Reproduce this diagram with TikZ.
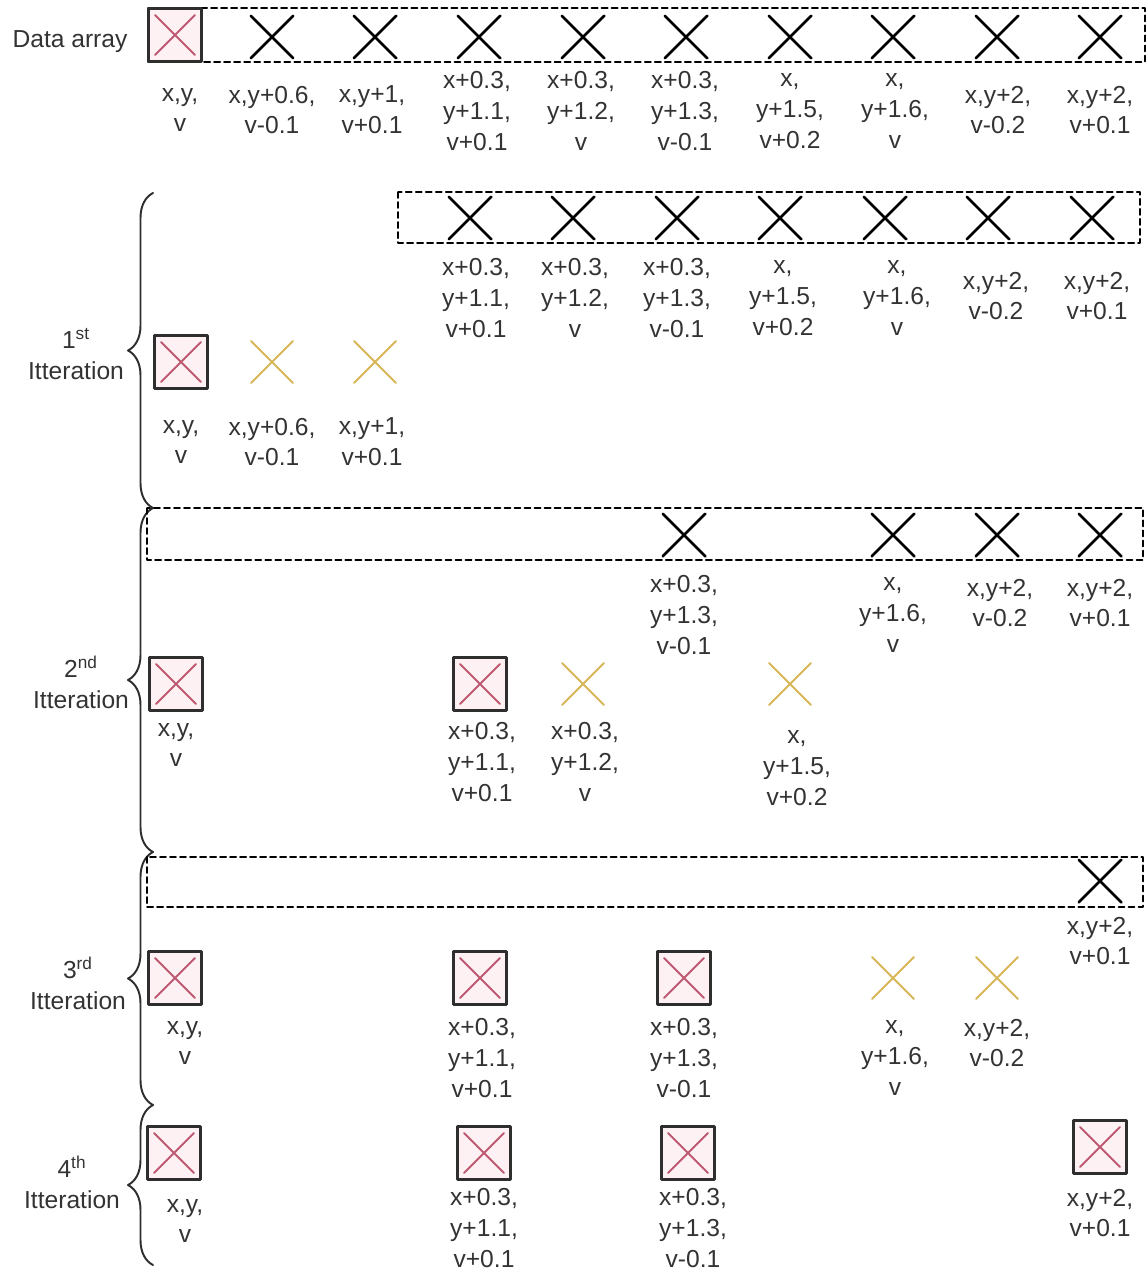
\documentclass[tikz,border=0pt]{standalone}
\usepackage{fontspec}
\setmainfont{Liberation Sans}
\usetikzlibrary{shapes.misc,decorations.pathreplacing}
\definecolor{textgray}{HTML}{333333}
\definecolor{boxgray}{HTML}{2E2E2E}
\definecolor{boxpink}{HTML}{FDF1F3}
\definecolor{crossred}{HTML}{BE5A72}
\definecolor{crossyellow}{HTML}{D6B656}
\tikzset{
  txt/.style={font=\fontsize{14}{17.5}\selectfont, text=textgray, align=center, inner sep=0pt},
  blackx/.style={cross out, draw=black, line width=1.5pt, minimum size=0.8cm, inner sep=0pt},
  yellowx/.style={cross out, draw=crossyellow, line width=1.1pt, minimum size=0.8cm, inner sep=0pt},
  keptbox/.style={draw=boxgray, fill=boxpink, line width=1.4pt, minimum size=1.06cm, inner sep=0pt,
    path picture={\draw[crossred, line width=1.1pt]
      ([shift={(0.13cm,-0.13cm)}]path picture bounding box.north west) -- ([shift={(-0.13cm,0.13cm)}]path picture bounding box.south east)
      ([shift={(-0.13cm,-0.13cm)}]path picture bounding box.north east) -- ([shift={(0.13cm,0.13cm)}]path picture bounding box.south west);}},
  dashbox/.style={draw=black, dash pattern=on 3.4pt off 2.3pt, line width=1.1pt},
  itbrace/.style={draw=boxgray, line width=1.1pt, decorate, decoration={brace, amplitude=0.5cm}},
}
\begin{document}
\begin{tikzpicture}[x=0.02cm, y=-0.02cm, line cap=round, line join=round]
  \useasboundingbox (0,0) rectangle (1147,1274);

  % data array
  \node[txt] (data) at (70,42) {Data array};
  \draw[dashbox] (148,8) rectangle (1145,62);
  \node[keptbox] (d1) at (175,35) {};
  \node[blackx] (d2) at (272,37) {};
  \node[blackx] (d3) at (375,37) {};
  \node[blackx] (d4) at (479,37) {};
  \node[blackx] (d5) at (583,37) {};
  \node[blackx] (d6) at (686,37) {};
  \node[blackx] (d7) at (790,37) {};
  \node[blackx] (d8) at (893,37) {};
  \node[blackx] (d9) at (997,37) {};
  \node[blackx] (d10) at (1100,37) {};
  \node[txt] (dl1) at (180,110) {x,y,\\v};
  \node[txt] (dl2) at (272,110) {x,y+0.6,\\v-0.1};
  \node[txt] (dl3) at (372,110) {x,y+1,\\v+0.1};
  \node[txt] (dl4) at (477,111) {x+0.3,\\y+1.1,\\v+0.1};
  \node[txt] (dl5) at (581,111) {x+0.3,\\y+1.2,\\v};
  \node[txt] (dl6) at (685,111) {x+0.3,\\y+1.3,\\v-0.1};
  \node[txt] (dl7) at (790,111) {x,\\y+1.5,\\v+0.2};
  \node[txt] (dl8) at (895,111) {x,\\y+1.6,\\v};
  \node[txt] (dl9) at (998,110) {x,y+2,\\v-0.2};
  \node[txt] (dl10) at (1100,110) {x,y+2,\\v+0.1};

  % 1st iteration
  \coordinate (t1) at (153,193);
  \coordinate (t2) at (153,508);
  \coordinate (t3) at (153,852);
  \coordinate (t4) at (153,1105);
  \coordinate (t5) at (153,1265);
  \draw[itbrace] (t2) -- (t1);
  \node[txt] (it1) at (76,354) {1\textsuperscript{st}\\Itteration};
  \draw[dashbox] (398,192) rectangle (1140,243);
  \node[blackx] (a4) at (470,218) {};
  \node[blackx] (a5) at (573,218) {};
  \node[blackx] (a6) at (677,218) {};
  \node[blackx] (a7) at (780,218) {};
  \node[blackx] (a8) at (885,218) {};
  \node[blackx] (a9) at (988,218) {};
  \node[blackx] (a10) at (1092,218) {};
  \node[txt] (al4) at (476,298) {x+0.3,\\y+1.1,\\v+0.1};
  \node[txt] (al5) at (575,298) {x+0.3,\\y+1.2,\\v};
  \node[txt] (al6) at (677,298) {x+0.3,\\y+1.3,\\v-0.1};
  \node[txt] (al7) at (783,298) {x,\\y+1.5,\\v+0.2};
  \node[txt] (al8) at (897,298) {x,\\y+1.6,\\v};
  \node[txt] (al9) at (996,296) {x,y+2,\\v-0.2};
  \node[txt] (al10) at (1097,296) {x,y+2,\\v+0.1};
  \node[keptbox] (s1) at (181,362) {};
  \node[yellowx] (s2) at (272,362) {};
  \node[yellowx] (s3) at (375,362) {};
  \node[txt] (sl1) at (181,442) {x,y,\\v};
  \node[txt] (sl2) at (272,442) {x,y+0.6,\\v-0.1};
  \node[txt] (sl3) at (372,442) {x,y+1,\\v+0.1};

  % 2nd iteration
  \draw[itbrace] (t3) -- (t2);
  \node[txt] (it2) at (81,682) {2\textsuperscript{nd}\\Itteration};
  \draw[dashbox] (147,508) rectangle (1143,560);
  \node[blackx] (b6) at (684,535) {};
  \node[blackx] (b8) at (893,535) {};
  \node[blackx] (b9) at (997,535) {};
  \node[blackx] (b10) at (1100,535) {};
  \node[txt] (bl6) at (684,615) {x+0.3,\\y+1.3,\\v-0.1};
  \node[txt] (bl8) at (893,615) {x,\\y+1.6,\\v};
  \node[txt] (bl9) at (1000,603) {x,y+2,\\v-0.2};
  \node[txt] (bl10) at (1100,603) {x,y+2,\\v+0.1};
  \node[keptbox] (u1) at (176,684) {};
  \node[keptbox] (u4) at (480,684) {};
  \node[yellowx] (u5) at (583,684) {};
  \node[yellowx] (u7) at (790,684) {};
  \node[txt] (ul1) at (176,745) {x,y,\\v};
  \node[txt] (ul4) at (482,762) {x+0.3,\\y+1.1,\\v+0.1};
  \node[txt] (ul5) at (585,762) {x+0.3,\\y+1.2,\\v};
  \node[txt] (ul7) at (797,768) {x,\\y+1.5,\\v+0.2};

  % 3rd iteration
  \draw[itbrace] (t4) -- (t3);
  \node[txt] (it3) at (78,983) {3\textsuperscript{rd}\\Itteration};
  \draw[dashbox] (147,857) rectangle (1143,907);
  \node[blackx] (c10) at (1100,881) {};
  \node[txt] (cl10) at (1100,941) {x,y+2,\\v+0.1};
  \node[keptbox] (w1) at (175,978) {};
  \node[keptbox] (w4) at (480,978) {};
  \node[keptbox] (w6) at (684,978) {};
  \node[yellowx] (w8) at (893,978) {};
  \node[yellowx] (w9) at (997,978) {};
  \node[txt] (wl1) at (185,1043) {x,y,\\v};
  \node[txt] (wl4) at (482,1058) {x+0.3,\\y+1.1,\\v+0.1};
  \node[txt] (wl6) at (684,1058) {x+0.3,\\y+1.3,\\v-0.1};
  \node[txt] (wl8) at (895,1058) {x,\\y+1.6,\\v};
  \node[txt] (wl9) at (997,1043) {x,y+2,\\v-0.2};

  % 4th iteration
  \draw[itbrace] (t5) -- (t4);
  \node[txt] (it4) at (72,1182) {4\textsuperscript{th}\\Itteration};
  \node[keptbox] (z1) at (174,1153) {};
  \node[keptbox] (z4) at (484,1153) {};
  \node[keptbox] (z6) at (688,1153) {};
  \node[keptbox] (z10) at (1100,1147) {};
  \node[txt] (zl1) at (185,1221) {x,y,\\v};
  \node[txt] (zl4) at (484,1228) {x+0.3,\\y+1.1,\\v+0.1};
  \node[txt] (zl6) at (693,1228) {x+0.3,\\y+1.3,\\v-0.1};
  \node[txt] (zl10) at (1100,1213) {x,y+2,\\v+0.1};
\end{tikzpicture}
\end{document}
